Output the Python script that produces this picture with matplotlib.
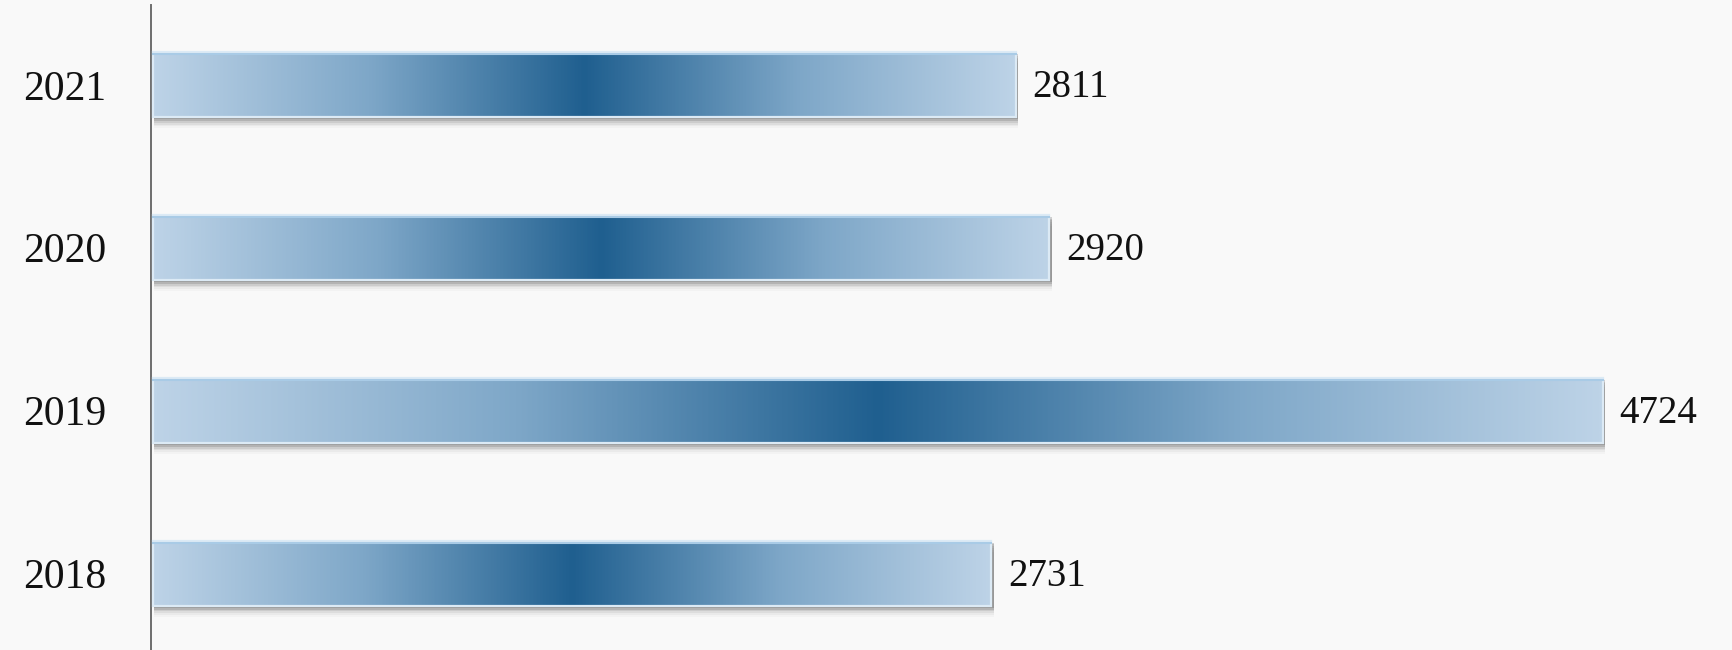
import numpy as np
import matplotlib
matplotlib.use("Agg")
import matplotlib.pyplot as plt
from matplotlib.colors import LinearSegmentedColormap
from matplotlib.patches import Rectangle

years = ["2018", "2019", "2020", "2021"]
values = [2731, 4724, 2920, 2811]

bar_h = 0.40
bg = "#f9f9f9"
grad = LinearSegmentedColormap.from_list(
    "bar", ["#bdd3e7", "#7ea7c8", "#1f5f8f", "#7ea7c8", "#bdd3e7"])

fig = plt.figure(figsize=(17.32, 6.5), dpi=100, facecolor=bg)
ax = fig.add_axes([151 / 1732, 0.0, 1 - 151 / 1732, 1 - 5 / 650])
ax.set_facecolor(bg)

ax.set_xlim(-7, 5145)
ax.set_ylim(-0.47, 3.49)

g = np.linspace(0, 1, 512).reshape(1, -1)
for i, (yr, v) in enumerate(zip(years, values)):
    # soft shadow under the bar
    for k, a in enumerate([0.22, 0.16, 0.11, 0.07, 0.045, 0.03]):
        off = 0.011 * (k + 1)
        ax.add_patch(Rectangle((4, i - bar_h / 2 - off), v + 4, bar_h,
                               facecolor="#3a3a3a", edgecolor="none",
                               alpha=a, zorder=1))
    ax.imshow(g, cmap=grad, aspect="auto", interpolation="bilinear",
              extent=(0, v, i - bar_h / 2, i + bar_h / 2), zorder=2)
    ax.add_patch(Rectangle((0, i - bar_h / 2), v, bar_h, facecolor="none",
                           edgecolor="#dceaf5", lw=1.6, zorder=3))
    ax.plot([0, v], [i + bar_h / 2 - 0.01] * 2, color="#a9cbe6", lw=1.5,
            zorder=3)
    ax.annotate(str(v), (v, i), xytext=(12, -2), textcoords="offset points",
                ha="left", va="center", fontsize=28,
                family="Liberation Serif", color="#111111")

ax.set_yticks(range(len(years)))
ax.set_yticklabels(years, fontsize=30, family="Liberation Serif",
                   color="#111111")
ax.tick_params(axis="y", length=0, pad=32)
ax.set_xticks([])
for s in ["top", "right", "bottom"]:
    ax.spines[s].set_visible(False)
ax.spines["left"].set_color("#6e6e6e")
ax.spines["left"].set_linewidth(1.4)

fig.savefig("out.png", dpi=100, facecolor=bg)
